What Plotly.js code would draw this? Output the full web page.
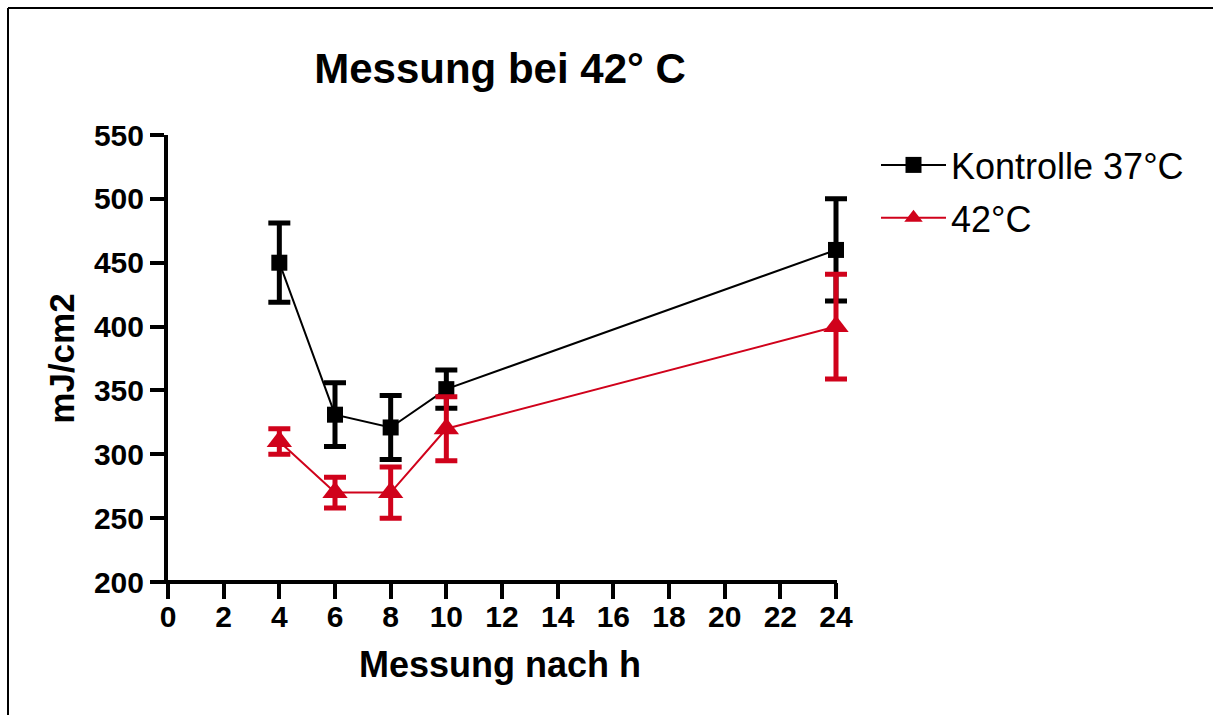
<!DOCTYPE html>
<html>
<head>
<meta charset="utf-8">
<script src="https://cdn.plot.ly/plotly-3.0.1.min.js"></script>
<style>
  html, body { margin: 0; padding: 0; background: #ffffff; }
  #chart { width: 1213px; height: 715px; }
</style>
</head>
<body>
<div id="chart"></div>
<script>
// ---- data ----
const hours = [4, 6, 8, 10, 24];
const kontrolleName = "Kontrolle 37°C";
const kontrolleValues = [450, 331, 321, 351, 460];
const kontrolleErr = [31, 25, 25, 15, 40];
const heatName = "42°C";
const heatValues = [310, 270, 270, 320, 400];
const heatErr = [10, 12, 20, 25, 41];
const xTicks = [0, 2, 4, 6, 8, 10, 12, 14, 16, 18, 20, 22, 24];
const yTicks = [200, 250, 300, 350, 400, 450, 500, 550];
const chartTitle = "Messung bei 42° C";
const xTitle = "Messung nach h";
const yTitle = "mJ/cm2";

const FONT = "Liberation Sans, Arial, Helvetica, sans-serif";
const RED = "#d0021b";

const traces = [
  {
    x: hours, y: kontrolleValues, name: kontrolleName, legendgroup: "k",
    type: "scatter", mode: "lines+markers", cliponaxis: false,
    line: { color: "#000000", width: 2 },
    marker: { symbol: "square", size: 16, color: "#000000" },
    error_y: { type: "data", array: kontrolleErr, visible: true, color: "#000000", thickness: 5, width: 11 }
  },
  {
    x: hours, y: heatValues, name: heatName, legendgroup: "h",
    type: "scatter", mode: "lines+markers", cliponaxis: false,
    line: { color: RED, width: 2 },
    marker: { symbol: "triangle-up", size: 22, color: RED },
    error_y: { type: "data", array: heatErr, visible: true, color: RED, thickness: 5, width: 11 }
  }
];

const W = 1213, H = 715;
const L = 168, R = 360, T = 135, B = 133;
const X24PIX = 836;                       // pixel where x = 24 sits
const pw = W - L - R, ph = H - T - B;
const xMax = 24 * pw / (X24PIX - L);      // a little room right of 24 so the error caps are not clipped
const px = v => (v - L) / pw;             // pixel x -> paper x
const py = v => (H - B - v) / ph;         // pixel y -> paper y

const layout = {
  width: W, height: H, autosize: false,
  margin: { l: L, r: R, t: T, b: B, pad: 0 },
  paper_bgcolor: "#ffffff", plot_bgcolor: "#ffffff",
  font: { family: FONT, color: "#000000" },
  title: {
    text: chartTitle,
    font: { family: FONT, size: 42, weight: "bold", color: "#000000" },
    xref: "container", yref: "container",
    x: 500 / W, xanchor: "center",
    y: 1 - 68 / H, yanchor: "middle"
  },
  showlegend: true,
  legend: {
    x: px(876), y: py(135), xanchor: "left", yanchor: "top",
    font: { family: FONT, size: 36, color: "#000000" },
    bgcolor: "rgba(0,0,0,0)", borderwidth: 0,
    itemwidth: 65, tracegroupgap: 3
  },
  xaxis: {
    range: [0, xMax], tickmode: "array", tickvals: xTicks, ticktext: xTicks.map(String),
    ticks: "outside", ticklen: 16, tickwidth: 4, tickcolor: "#000000",
    showline: false,
    showgrid: false, zeroline: false, ticklabelstandoff: -8,
    tickfont: { family: FONT, size: 30, weight: "bold", color: "#000000" }
  },
  yaxis: {
    range: [200, 550], tickmode: "array", tickvals: yTicks, ticktext: yTicks.map(String),
    ticks: "outside", ticklen: 14, tickwidth: 4, tickcolor: "#000000",
    showline: true, linewidth: 4, linecolor: "#000000",
    showgrid: false, zeroline: false,
    tickfont: { family: FONT, size: 30, weight: "bold", color: "#000000" },
    title: { text: yTitle, font: { family: FONT, size: 35, weight: "bold", color: "#000000" }, standoff: 10 }
  },
  annotations: [
    // x axis title, centred under the 0–24 axis span
    { text: xTitle, xref: "paper", yref: "paper", x: px(500), y: py(664),
      xanchor: "center", yanchor: "middle", showarrow: false,
      font: { family: FONT, size: 36, weight: "bold", color: "#000000" } }
  ],
  shapes: [
    // x axis line from just left of the origin to x = 24
    { type: "line", xref: "paper", yref: "paper", x0: px(152), x1: px(X24PIX + 1), y0: 0, y1: 0,
      line: { color: "#000000", width: 4 } },
    // y axis overshoot below the origin
    { type: "line", xref: "paper", yref: "paper", x0: 0, x1: 0, y0: 0, y1: py(596),
      line: { color: "#000000", width: 4 } },
    // outer frame (top and left edges)
    { type: "line", xref: "paper", yref: "paper", x0: px(8), x1: px(1213), y0: py(8), y1: py(8),
      line: { color: "#000000", width: 2 } },
    { type: "line", xref: "paper", yref: "paper", x0: px(8), x1: px(8), y0: py(8), y1: py(715),
      line: { color: "#000000", width: 2 } }
  ]
};

Plotly.newPlot("chart", traces, layout, { displayModeBar: false, staticPlot: true });
</script>
</body>
</html>
